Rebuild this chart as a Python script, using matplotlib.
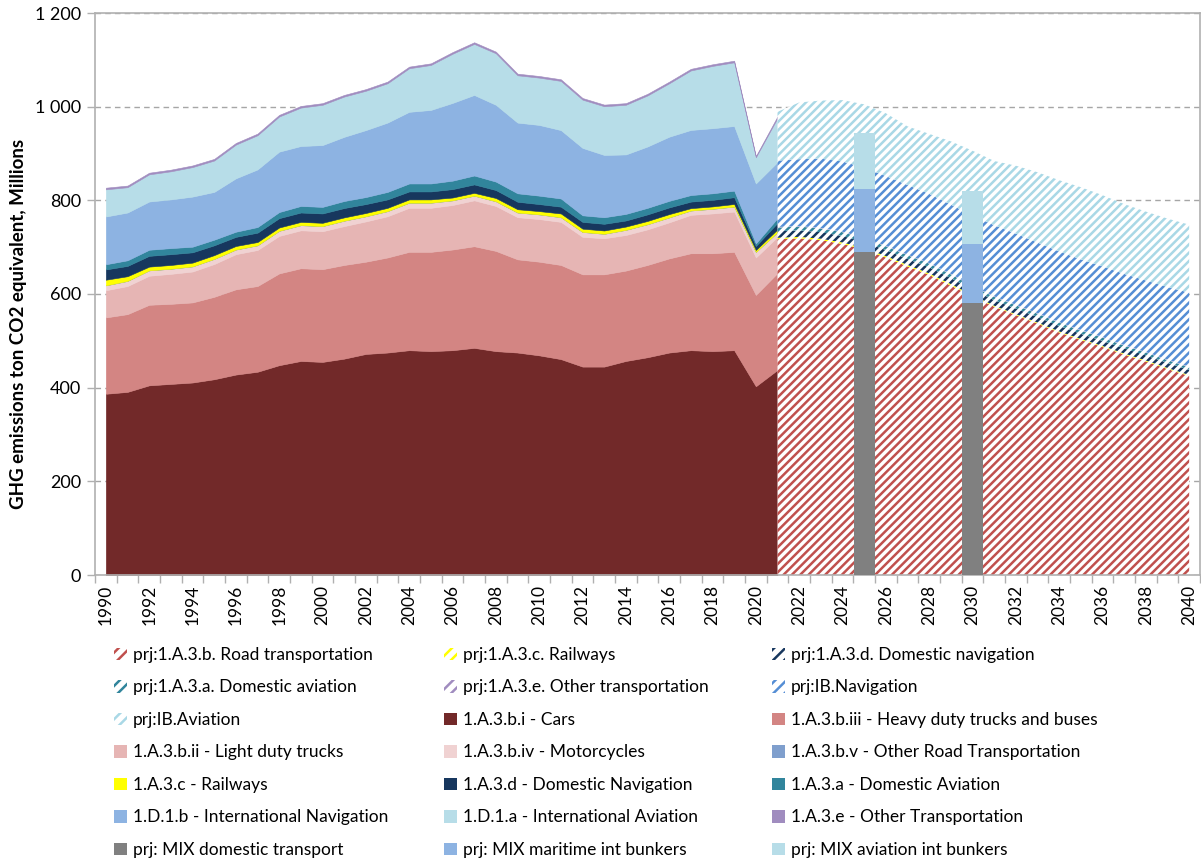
import matplotlib
matplotlib.use('Agg')
import matplotlib.pyplot as plt
from matplotlib.patches import Patch
import numpy as np

plt.rcParams['font.family'] = ['Lato', 'DejaVu Sans']
plt.rcParams['hatch.linewidth'] = 1.8

# ---------------- historical data (1990-2021) ----------------
hist_years = list(range(1990, 2022))
cars = [387, 391, 405, 408, 411, 418, 428, 434, 448, 457, 455, 462, 472, 475, 480, 478,
        480, 485, 478, 475, 469, 461, 445, 445, 457, 465, 475, 480, 478, 480, 403, 438]
heavy = [163, 166, 172, 171, 171, 176, 182, 183, 196, 198, 198, 200, 197, 203, 210, 212,
         215, 217, 214, 199, 200, 201, 197, 197, 193, 197, 201, 207, 209, 210, 195, 207]
light = [58, 60, 62, 64, 66, 70, 75, 77, 80, 81, 81, 83, 86, 88, 94, 94,
         95, 98, 96, 90, 91, 92, 80, 77, 76, 76, 77, 82, 85, 86, 80, 77]
moto = [10.5, 11, 11.5, 11, 11, 11, 10, 10, 11, 11, 11, 11.6, 11, 11, 11, 11,
        10, 10, 10, 10, 10, 10, 10.5, 9.6, 11, 11, 10.6, 9.3, 10, 10.7, 12, 10]
other_road = [0] * 32
rail = [12, 10, 8, 8, 8, 8, 7.5, 7, 7, 7, 7, 7, 7, 7, 7, 7,
        6, 6, 7, 7, 7, 8, 7, 7, 7, 7, 7, 5, 5, 5.5, 4, 6]
dom_nav = [22, 22, 23, 23, 22, 21, 19.5, 20, 20, 20, 20, 20, 19, 18, 17, 17,
           18, 18, 17, 16, 15, 14.5, 14.5, 14.3, 13, 14, 14.3, 14, 14, 14.5, 8.5, 14]
dom_av = [11, 12, 13, 13, 12, 12, 11, 12, 13, 14, 14, 15, 15, 16, 17, 17,
          18, 19, 18, 18, 18, 17.5, 14, 14, 14, 14, 14, 14, 14, 14, 5.5, 10]
int_nav = [102, 102, 103, 104, 107, 102, 114, 123, 129, 128, 132, 137, 143, 148, 153, 157,
           166, 172, 164, 151, 151, 146, 144, 133, 127, 131, 137, 139, 139, 138, 128, 120]
int_av = [58, 54, 58, 60, 63, 67, 72, 73, 75, 82, 86, 86, 84, 84, 93, 96,
          105, 109, 110, 101, 101, 105, 103, 104, 106, 109, 114, 127, 133, 136, 56, 94]
other_tr = [3.5] * 30 + [2.5, 3.5]

# ---------------- projection data (2021-2040) ----------------
proj_years = list(range(2021, 2041))
prj_road = [717, 719, 715, 707, 695, 678, 659, 641, 618, 595,
            573, 555, 537, 518, 502, 487, 471, 456, 440, 425]
prj_rail = [3, 3, 3, 3, 3, 3, 3, 3, 3, 3, 2, 2, 2, 2, 2, 2, 2, 2, 2, 2]
prj_dom_nav = [14, 14, 14, 14, 13, 13, 13, 13, 13, 12, 12, 12, 12, 12, 11, 11, 11, 11, 11, 11]
prj_dom_av = [8, 8, 8, 8, 8, 8, 8, 8, 8, 7, 7, 7, 7, 7, 7, 7, 6, 6, 6, 6]
prj_other = [1, 1, 1, 1, 1, 1, 1, 1, 1, 1, 1, 1, 1, 1, 1, 1, 1, 1, 1, 1]
prj_ib_nav = [142, 143, 148, 150, 150, 149, 149, 148, 148, 150,
              152, 152, 151, 151, 151, 151, 152, 153, 155, 158]
prj_ib_av = [104, 121, 124, 131, 135, 134, 125, 128, 135, 138,
             137, 145, 150, 152, 154, 152, 149, 147, 146, 145]

# ---------------- MIX bars ----------------
bar_years = [2025, 2030]
mix_domestic = [690, 580]
mix_maritime = [134, 127]
mix_aviation = [119, 113]

y_ticks = [0, 200, 400, 600, 800, 1000, 1200]
y_tick_labels = ['0', '200', '400', '600', '800', '1 000', '1 200']
x_tick_years = list(range(1990, 2041, 2))

# ---------------- colours ----------------
c_cars = '#722929'
c_heavy = '#d38583'
c_light = '#e6b5b4'
c_moto = '#f0d2d2'
c_oroad = '#7f9fcd'
c_rail = '#ffff00'
c_domnav = '#17375e'
c_domav = '#31859c'
c_intnav = '#8db3e2'
c_intav = '#b7dde8'
c_other = '#a08cbf'

h_road = '#c0504d'
h_rail = '#ffff00'
h_domnav = '#17375e'
h_domav = '#31859c'
h_other = '#a08cbf'
h_ibnav = '#558ed5'
h_ibav = '#a9d8e6'

c_mixdom = '#808080'
c_mixmar = '#8db3e2'
c_mixav = '#b7dde8'

fig = plt.figure(figsize=(12.01, 8.58), dpi=100)
ax = fig.add_axes([95 / 1201, 1 - 575 / 858, 1105 / 1201, 562 / 858])

# historical stacked areas
hist_series = [cars, heavy, light, moto, other_road, rail, dom_nav, dom_av, int_nav, int_av, other_tr]
hist_colors = [c_cars, c_heavy, c_light, c_moto, c_oroad, c_rail, c_domnav, c_domav, c_intnav, c_intav, c_other]
polys = ax.stackplot(hist_years, *hist_series, colors=hist_colors, zorder=2)
for p, c in zip(polys, hist_colors):
    p.set_edgecolor(c)
    p.set_linewidth(0.4)

# projection hatched stacked areas
proj_series = [prj_road, prj_rail, prj_dom_nav, prj_dom_av, prj_other, prj_ib_nav, prj_ib_av]
proj_colors = [h_road, h_rail, h_domnav, h_domav, h_other, h_ibnav, h_ibav]
base = np.zeros(len(proj_years))
for s, c in zip(proj_series, proj_colors):
    top = base + np.array(s, dtype=float)
    ax.fill_between(proj_years, base, top, facecolor='white', edgecolor=c,
                    hatch='////', linewidth=0, zorder=2)
    base = top

# MIX bars
ax.bar(bar_years, mix_domestic, width=0.98, color=c_mixdom, zorder=3)
b2 = np.array(mix_domestic)
ax.bar(bar_years, mix_maritime, width=0.98, bottom=b2, color=c_mixmar, zorder=3)
b3 = b2 + np.array(mix_maritime)
ax.bar(bar_years, mix_aviation, width=0.98, bottom=b3, color=c_mixav, zorder=3)

# axes styling
ax.set_xlim(1989.5, 2040.5)
ax.set_ylim(0, 1200)
ax.set_yticks(y_ticks)
ax.set_yticklabels(y_tick_labels)
ax.set_xticks(x_tick_years)
ax.set_xticklabels([str(y) for y in x_tick_years], rotation=90)
ax.set_xticks(np.arange(1989.5, 2041, 1), minor=True)
ax.tick_params(axis='x', which='major', length=0, pad=7, labelsize=12.5, colors='black')
ax.tick_params(axis='x', which='minor', length=6, color='#b0b0b0', width=1)
ax.tick_params(axis='y', which='major', length=6, color='#b0b0b0', width=1,
               labelsize=13, pad=4)
ax.grid(axis='y', color='#a6a6a6', linestyle=(0, (4, 3)), linewidth=1, zorder=0)
ax.set_axisbelow(True)
for sp in ax.spines.values():
    sp.set_color('#b0b0b0')
    sp.set_linewidth(1.2)

fig.text(19 / 1201, 1 - 324 / 858, 'GHG emissions ton CO2 equivalent, Millions',
         rotation=90, ha='center', va='center', fontsize=13.5, fontweight='bold')

# legend (row-wise order, three columns)
def hpatch(c, lab):
    return Patch(facecolor='white', edgecolor=c, hatch='///', linewidth=0, label=lab)

def spatch(c, lab):
    return Patch(facecolor=c, edgecolor='none', label=lab)

entries = [
    hpatch(h_road, 'prj:1.A.3.b. Road transportation'),
    hpatch(h_rail, 'prj:1.A.3.c. Railways'),
    hpatch(h_domnav, 'prj:1.A.3.d. Domestic navigation'),
    hpatch(h_domav, 'prj:1.A.3.a. Domestic aviation'),
    hpatch(h_other, 'prj:1.A.3.e. Other transportation'),
    hpatch(h_ibnav, 'prj:IB.Navigation'),
    hpatch(h_ibav, 'prj:IB.Aviation'),
    spatch(c_cars, '1.A.3.b.i - Cars'),
    spatch(c_heavy, '1.A.3.b.iii - Heavy duty trucks and buses'),
    spatch(c_light, '1.A.3.b.ii - Light duty trucks'),
    spatch(c_moto, '1.A.3.b.iv - Motorcycles'),
    spatch(c_oroad, '1.A.3.b.v - Other Road Transportation'),
    spatch(c_rail, '1.A.3.c - Railways'),
    spatch(c_domnav, '1.A.3.d - Domestic Navigation'),
    spatch(c_domav, '1.A.3.a - Domestic Aviation'),
    spatch(c_intnav, '1.D.1.b - International Navigation'),
    spatch(c_intav, '1.D.1.a - International Aviation'),
    spatch(c_other, '1.A.3.e - Other Transportation'),
    spatch(c_mixdom, 'prj: MIX domestic transport'),
    spatch(c_mixmar, 'prj: MIX maritime int bunkers'),
    spatch(c_mixav, 'prj: MIX aviation int bunkers'),
]

col_x = [114, 444, 772]
for ci, x0 in enumerate(col_x):
    hs = entries[ci::3]
    leg = fig.legend(handles=hs, loc='upper left',
                     bbox_to_anchor=(x0 / 1201, 1 - 647 / 858),
                     frameon=False, fontsize=12.5, handlelength=0.75, handleheight=0.75,
                     handletextpad=0.35, labelspacing=0.95, borderpad=0, borderaxespad=0)

fig.savefig('out.png', dpi=100)
